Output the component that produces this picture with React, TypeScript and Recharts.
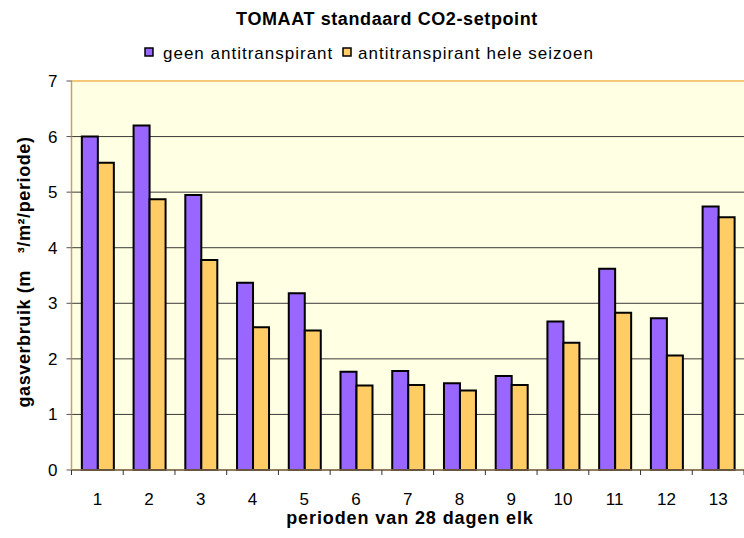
import React from 'react';
import { BarChart, Bar, XAxis, YAxis, CartesianGrid, ReferenceLine } from 'recharts';

const periods = ['1', '2', '3', '4', '5', '6', '7', '8', '9', '10', '11', '12', '13'];
const geenAntitranspirant = [6.0, 6.2, 4.95, 3.37, 3.18, 1.77, 1.78, 1.56, 1.69, 2.67, 3.62, 2.73, 4.74];
const antitranspirantSeizoen = [5.53, 4.87, 3.78, 2.57, 2.51, 1.52, 1.53, 1.43, 1.53, 2.29, 2.83, 2.06, 4.55];
const yTicks = [0, 1, 2, 3, 4, 5, 6, 7];

const seriesNames = ['geen antitranspirant', 'antitranspirant hele seizoen'];
const colors = ['#9966FF', '#FFCC66'];

const data = periods.map((p, i) => ({
  period: p,
  geen: geenAntitranspirant[i],
  anti: antitranspirantSeizoen[i],
}));

const FONT = '"Liberation Sans", Arial, sans-serif';

const XTick = (props: any) => {
  const { x, y, payload } = props;
  const off = payload.offset || 0;
  const axisY = y - 23;
  return (
    <g>
      <line x1={x - off} x2={x - off} y1={axisY} y2={axisY + 5} stroke="#333" strokeWidth={1} />
      {payload.index === periods.length - 1 && (
        <line x1={x + off} x2={x + off} y1={axisY} y2={axisY + 5} stroke="#333" strokeWidth={1} />
      )}
      <text x={x} y={y} dy="0.71em" textAnchor="middle" fontSize={17} fontFamily={FONT} fill="#000">
        {payload.value}
      </text>
    </g>
  );
};

export default function App() {
  return (
    <div style={{ position: 'absolute', left: 0, top: 0, width: 744, height: 538, background: '#fff' }}>
      <BarChart
        width={744}
        height={538}
        data={data}
        margin={{ top: 81, right: 0, bottom: 0, left: 0 }}
        barCategoryGap="20%"
        barGap={0}
      >
        <CartesianGrid vertical={false} stroke="#3a3a3a" fill="#FFFFE3" />
        <ReferenceLine y={7} stroke="#F5C97A" strokeWidth={2} />
        <XAxis
          dataKey="period"
          height={68}
          tickSize={5}
          tickMargin={18}
          tickLine={false}
          tick={<XTick />}
          axisLine={{ stroke: '#8C7350', strokeWidth: 1.5 }}
          interval={0}
        />
        <YAxis
          width={71.5}
          domain={[0, 7]}
          ticks={yTicks}
          interval={0}
          tickSize={5}
          tickMargin={9}
          tick={{ fontSize: 17, fontFamily: FONT, fill: '#000' }}
          tickLine={{ stroke: '#555' }}
          axisLine={{ stroke: '#C8A060', strokeWidth: 1.5 }}
        />
        <Bar dataKey="geen" fill={colors[0]} stroke="#000" strokeWidth={2} isAnimationActive={false} />
        <Bar dataKey="anti" fill={colors[1]} stroke="#000" strokeWidth={2} isAnimationActive={false} />
      </BarChart>
      <svg
        width={744}
        height={538}
        style={{ position: 'absolute', left: 0, top: 0, pointerEvents: 'none' }}
      >
        <text x={387} y={25} textAnchor="middle" fontSize={18} fontWeight="bold" fontFamily={FONT} letterSpacing={0.6}>
          TOMAAT standaard CO2-setpoint
        </text>
        <rect x={145} y={48} width={8} height={8} fill={colors[0]} stroke="#000" strokeWidth={1.5} />
        <text x={163} y={59} fontSize={17} fontFamily={FONT} letterSpacing={1}>
          {seriesNames[0]}
        </text>
        <rect x={343} y={48} width={8} height={8} fill={colors[1]} stroke="#000" strokeWidth={1.5} />
        <text x={358} y={59} fontSize={17} fontFamily={FONT} letterSpacing={1}>
          {seriesNames[1]}
        </text>
        <text x={410} y={524} textAnchor="middle" fontSize={18} fontWeight="bold" fontFamily={FONT} letterSpacing={0.9}>
          perioden van 28 dagen elk
        </text>
        <text
          transform="translate(30, 272) rotate(-90)"
          textAnchor="middle"
          fontSize={18}
          fontWeight="bold"
          fontFamily={FONT}
          letterSpacing={0.6}
          style={{ whiteSpace: 'pre' }}
        >
          {'gasverbruik (m\u00A0\u00A0\u00A0\u00B3/m\u00B2/periode)'}
        </text>
      </svg>
    </div>
  );
}
